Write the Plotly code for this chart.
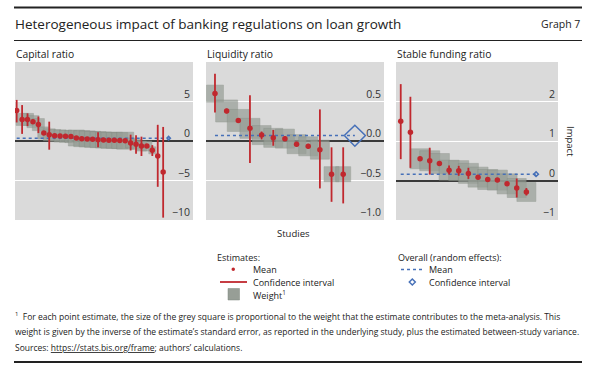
import plotly.graph_objects as go

# ---------------- data ----------------
cap_mean = [3.85, 2.73, 2.73, 2.45, 2.08, 1.02, 0.78, 0.68, 0.64, 0.60, 0.56, 0.38, 0.30, 0.26, 0.21,
            0.17, 0.13, 0.09, 0.09, 0.05, 0.04, -0.25, -0.42, -0.63, -0.63, -1.18, -1.90, -3.92]
cap_lo = [2.35, 0.90, 1.88, 2.20, 1.00, 0.80, -1.10, 0.48, 0.44, 0.40, 0.36, 0.18, 0.10, 0.06, 0.01,
          -0.80, -0.07, -0.11, -0.11, -0.15, -0.16, -1.20, -1.60, -1.90, -0.85, -1.90, -5.80, -9.70]
cap_hi = [5.20, 4.55, 3.50, 2.75, 3.10, 1.25, 2.45, 0.88, 0.84, 0.80, 0.76, 0.58, 0.50, 0.46, 0.41,
          1.12, 0.33, 0.29, 0.29, 0.25, 0.24, 0.80, 0.72, 0.55, -0.40, -0.52, 2.05, 1.78]
cap_weight = [3, 12, 12, 12, 12, 12, 12, 12, 12, 12, 12, 16, 16, 16, 16, 16, 16, 16, 16, 16, 17,
              10, 10, 10, 10, 7, 2, 1]
cap_overall = [0.35, 0.12, 0.58]  # mean, low, high

liq_mean = [0.60, 0.38, 0.26, 0.16, 0.075, 0.04, 0.03, -0.04, -0.067, -0.11, -0.42, -0.42]
liq_lo = [0.36, 0.35, 0.23, -0.28, 0.02, -0.06, 0.00, -0.07, -0.097, -0.60, -0.77, -0.79]
liq_hi = [0.85, 0.41, 0.29, 0.58, 0.12, 0.14, 0.06, -0.01, -0.037, 0.40, -0.08, -0.08]
liq_weight = [17, 22, 22, 20, 19, 19, 19, 19, 19, 19, 15, 15]
liq_overall = [0.07, -0.067, 0.20]

sfr_mean = [1.50, 1.22, 0.55, 0.50, 0.43, 0.26, 0.25, 0.18, 0.085, 0.025, 0.01, -0.085, -0.19, -0.29]
sfr_lo = [0.54, 0.32, 0.50, 0.15, 0.38, 0.15, 0.12, 0.04, 0.035, -0.025, -0.04, -0.135, -0.43, -0.38]
sfr_hi = [2.44, 2.12, 0.60, 0.83, 0.48, 0.38, 0.37, 0.32, 0.135, 0.075, 0.06, -0.035, 0.05, -0.19]
sfr_weight = [2, 2, 20, 20, 20, 20, 20, 20, 20, 20, 20, 20, 19, 19]
sfr_overall = [0.16, 0.10, 0.22]

panel_titles = ["Capital ratio", "Liquidity ratio", "Stable funding ratio"]
y_ranges = [[-10, 10], [-1, 1], [-1, 3]]
y_ticks = [[-10, -5, 0, 5], [-1.0, -0.5, 0.0, 0.5], [-1, 0, 1, 2]]
y_formats = ["d", ".1f", "d"]
x_ranges = [[0.69, 33.5], [0.23, 15.5], [0.51, 17.27]]

# ---------------- style ----------------
W, H = 589, 374
RED = "#c0282e"
BLUE = "#4670b8"
SQ = "#979e96"
SQ_EDGE = "#7e867d"
BG = "#dadada"
TXT = "#222222"
FONT = "Open Sans"

px_x = [(15, 193), (206, 384), (396, 558)]
px_y = (62, 220)


def X(p):
    return p / W


def Y(p):
    return 1 - p / H


fig = go.Figure()

panels = [
    (cap_mean, cap_lo, cap_hi, cap_weight, cap_overall),
    (liq_mean, liq_lo, liq_hi, liq_weight, liq_overall),
    (sfr_mean, sfr_lo, sfr_hi, sfr_weight, sfr_overall),
]

for i, (mean, lo, hi, wt, ov) in enumerate(panels):
    xa = "x" if i == 0 else f"x{i+1}"
    ya = "y" if i == 0 else f"y{i+1}"
    n = len(mean)
    xs = list(range(1, n + 1))
    # weight squares
    fig.add_trace(go.Scatter(x=xs, y=mean, mode="markers", xaxis=xa, yaxis=ya,
                             marker=dict(symbol="square", size=wt, color=SQ,
                                         line=dict(color=SQ_EDGE, width=0.5)),
                             hoverinfo="skip", showlegend=False))
    # overall mean dotted line
    fig.add_trace(go.Scatter(x=[1, n + 1], y=[ov[0], ov[0]], mode="lines", xaxis=xa, yaxis=ya,
                             line=dict(color=BLUE, width=1.5, dash="dot"),
                             hoverinfo="skip", showlegend=False))
    # estimates with CI
    fig.add_trace(go.Scatter(x=xs, y=mean, mode="markers", xaxis=xa, yaxis=ya,
                             marker=dict(size=5.5, color=RED),
                             error_y=dict(type="data", symmetric=False,
                                          array=[h - m for h, m in zip(hi, mean)],
                                          arrayminus=[m - l for m, l in zip(mean, lo)],
                                          width=0, thickness=1.8, color=RED),
                             showlegend=False))
    # overall CI diamond (drawn from the CI, square-ish in pixels)
    ppu_y = (px_y[1] - px_y[0]) / (y_ranges[i][1] - y_ranges[i][0])
    ppu_x = (px_x[i][1] - px_x[i][0]) / (x_ranges[i][1] - x_ranges[i][0])
    hw = (ov[2] - ov[1]) * ppu_y / 2 / ppu_x
    pos = n + 1
    fig.add_trace(go.Scatter(x=[pos - hw, pos, pos + hw, pos, pos - hw],
                             y=[ov[0], ov[2], ov[0], ov[1], ov[0]],
                             mode="lines", xaxis=xa, yaxis=ya,
                             line=dict(color=BLUE, width=1.5),
                             hoverinfo="skip", showlegend=False))

layout = dict(width=W, height=H, margin=dict(l=0, r=0, t=0, b=0),
              paper_bgcolor="white", plot_bgcolor=BG,
              font=dict(family=FONT, color=TXT, size=11), showlegend=False)

for i in range(3):
    sx = "" if i == 0 else str(i + 1)
    layout["xaxis" + sx] = dict(domain=[X(px_x[i][0]), X(px_x[i][1])], range=x_ranges[i],
                                showgrid=False, zeroline=False, showticklabels=False,
                                ticks="", showline=False, anchor="y" + sx, fixedrange=True)
    layout["yaxis" + sx] = dict(domain=[Y(px_y[1]), Y(px_y[0])], range=y_ranges[i],
                                anchor="x" + sx, side="right", ticklabelposition="inside top",
                                tickvals=y_ticks[i], tickformat=y_formats[i], ticks="",
                                showgrid=True, gridcolor="white", gridwidth=1.2,
                                zeroline=True, zerolinecolor="#3a3a3a", zerolinewidth=1.5,
                                showline=False, tickfont=dict(size=10.5, color="#333333"),
                                fixedrange=True)

fig.update_layout(**layout)

ann = []
shapes = []


def text(x, y, s, size, xanchor="left", **kw):
    ann.append(dict(x=X(x), y=Y(y), xref="paper", yref="paper", text=s, showarrow=False,
                    xanchor=xanchor, yanchor="middle", font=dict(size=size, color=TXT, family=FONT),
                    **kw))


def hline(x0, x1, y, w, color="#222222", dash=None):
    shapes.append(dict(type="line", xref="paper", yref="paper", x0=X(x0), x1=X(x1), y0=Y(y), y1=Y(y),
                       line=dict(color=color, width=w, dash=dash)))


# frame lines
hline(14, 582, 7.5, 2)
hline(14, 582, 40.5, 1)
hline(14, 582, 362, 2)

# titles
text(13, 24, "Heterogeneous impact of banking regulations on loan growth", 13.5)
text(582, 24, "Graph 7", 10.5, xanchor="right")
for i, t in enumerate(panel_titles):
    text(px_x[i][0] - 1, 53.5, t, 10.3)

# axis labels
text(293, 233, "Studies", 9.5, xanchor="center")
text(570, 141, "Impact", 9.5, xanchor="center", textangle=90)

# legend
text(215, 257, "Estimates:", 9)
text(251, 269.5, "Mean", 9)
text(251, 282, "Confidence interval", 9)
text(251, 294.5, "Weight<sup>1</sup>", 9)
text(396, 257, "Overall (random effects):", 9)
text(427, 269.5, "Mean", 9)
text(427, 282, "Confidence interval", 9)

shapes.append(dict(type="circle", xref="paper", yref="paper", x0=X(231.5), x1=X(235), y0=Y(271), y1=Y(267.5),
                   fillcolor=RED, line=dict(color=RED, width=0)))
hline(220, 247, 282, 1.8, color=RED)
shapes.append(dict(type="rect", xref="paper", yref="paper", x0=X(228), x1=X(239.5), y0=Y(300), y1=Y(288.5),
                   fillcolor=SQ, line=dict(color=SQ_EDGE, width=0.5)))
hline(401, 425, 269.5, 1.5, color=BLUE, dash="dot")
cx, cy, r = 412.3, 282, 3
shapes.append(dict(type="path", xref="paper", yref="paper",
                   path=f"M {X(cx-r)},{Y(cy)} L {X(cx)},{Y(cy-r)} L {X(cx+r)},{Y(cy)} L {X(cx)},{Y(cy+r)} Z",
                   line=dict(color=BLUE, width=1.5)))

# footnotes
text(13, 316, "<sup>1</sup>  For each point estimate, the size of the grey square is proportional to the weight "
     "that the estimate contributes to the meta-analysis. This", 8.5)
text(13, 331, "weight is given by the inverse of the estimate’s standard error, as reported in the underlying "
     "study, plus the estimated between-study variance.", 8.5)
text(13, 347, "Sources: <span style=\"text-decoration:underline\">https://stats.bis.org/frame</span>; "
     "authors’ calculations.", 8.5)

fig.update_layout(annotations=ann, shapes=shapes)
fig.write_html("out.html", config={"displayModeBar": False},
               post_script="document.body.style.margin='0px';document.body.style.padding='0px';")
